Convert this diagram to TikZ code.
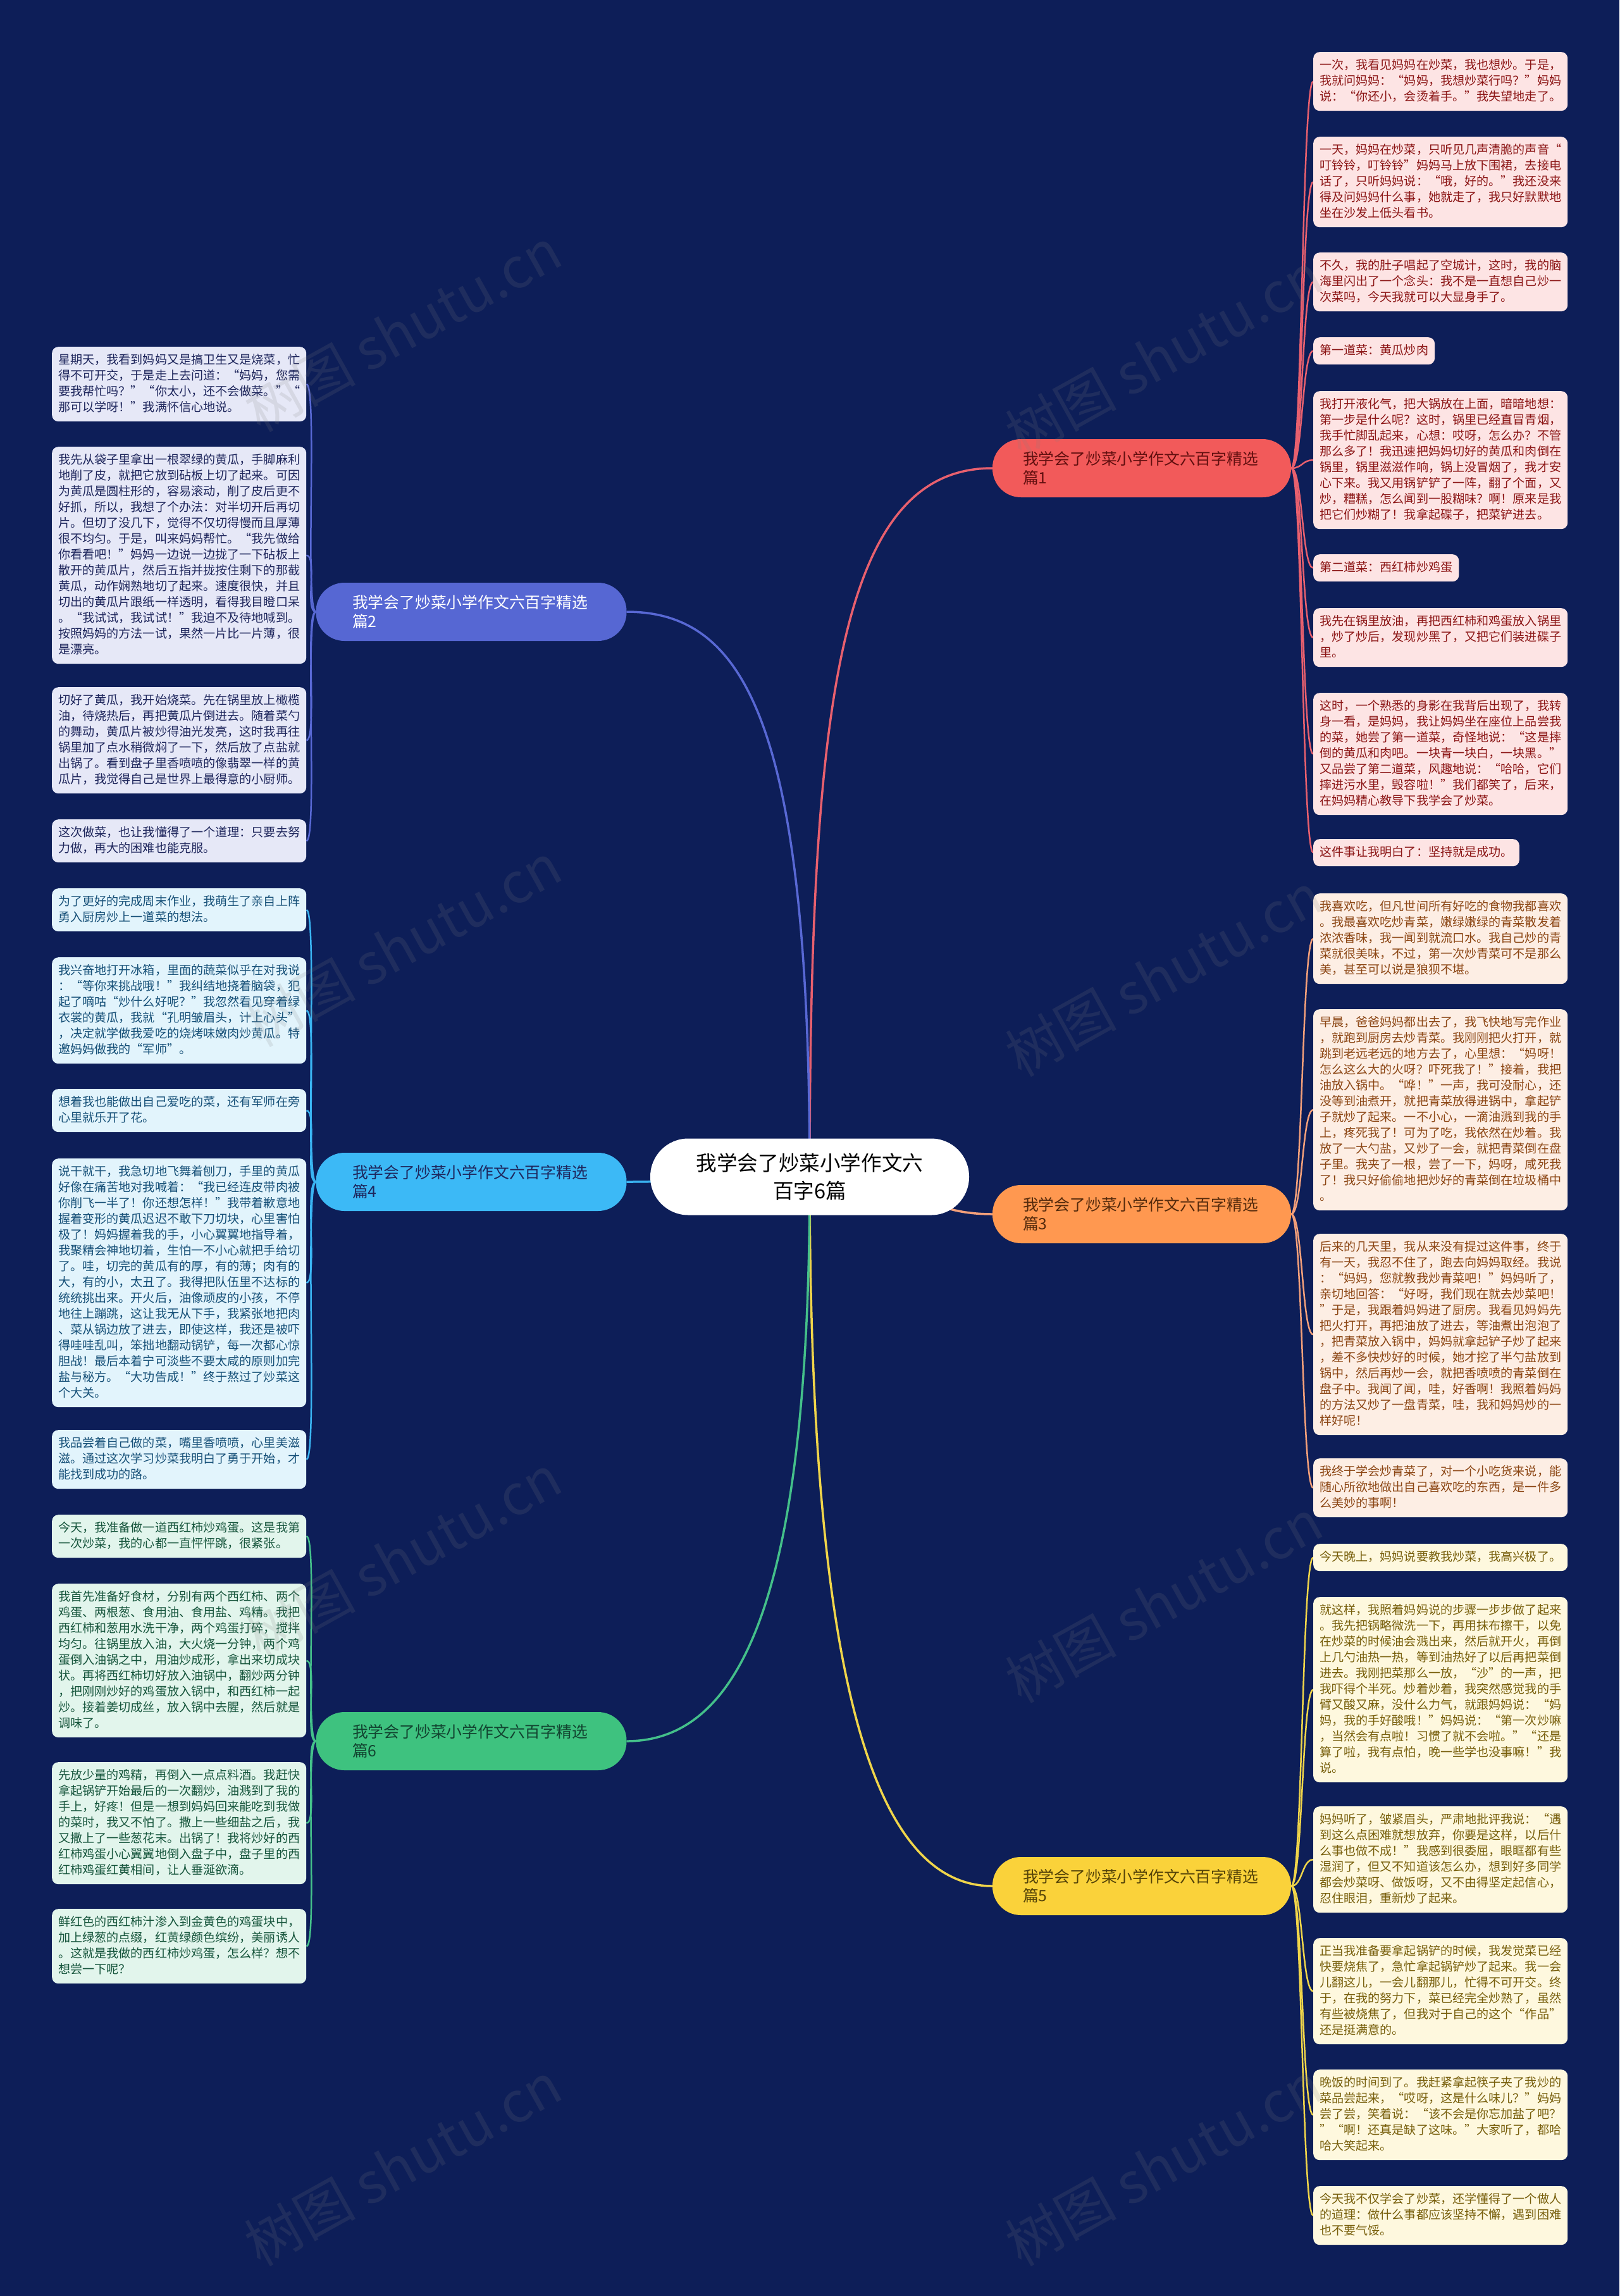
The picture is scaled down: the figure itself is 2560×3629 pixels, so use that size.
\documentclass[tikz,border=0pt]{standalone}
\usepackage{fontspec}
\newfontfamily\cjk{Noto Sans CJK SC}
\usetikzlibrary{backgrounds}
\definecolor{bg}{RGB}{13,30,88}
\definecolor{fA}{RGB}{253,228,228}\definecolor{tA}{RGB}{140,22,22}
\definecolor{fB}{RGB}{230,232,247}\definecolor{tB}{RGB}{30,38,92}
\definecolor{fC}{RGB}{253,238,228}\definecolor{tC}{RGB}{140,70,20}
\definecolor{fD}{RGB}{226,244,252}\definecolor{tD}{RGB}{22,80,120}
\definecolor{fE}{RGB}{254,248,222}\definecolor{tE}{RGB}{120,95,12}
\definecolor{fF}{RGB}{226,245,236}\definecolor{tF}{RGB}{22,85,60}
\definecolor{nA}{RGB}{242,90,90}\definecolor{lA}{RGB}{232,96,110}
\definecolor{nB}{RGB}{86,103,211}\definecolor{lB}{RGB}{88,104,212}
\definecolor{nC}{RGB}{255,152,80}\definecolor{lC}{RGB}{244,160,122}
\definecolor{nD}{RGB}{60,185,246}\definecolor{lD}{RGB}{58,180,242}
\definecolor{nE}{RGB}{250,210,58}\definecolor{lE}{RGB}{240,213,74}
\definecolor{nF}{RGB}{62,194,127}\definecolor{lF}{RGB}{68,192,138}
\newcommand\lfstrut{\rule[-7pt]{0pt}{25pt}}
\begin{document}
\begin{tikzpicture}[x=1pt,y=-1pt,
  leafbase/.style={rectangle, rounded corners=10pt, inner xsep=10pt, inner ysep=9pt,
    align=left, anchor=north west, font=\cjk\fontsize{19.1}{25}\selectfont,
    execute at begin node=\lfstrut, execute at end node=\lfstrut},
  leafw/.style={leafbase, text width=382pt},
  kA/.style={fill=fA, text=tA}, kB/.style={fill=fB, text=tB},
  kC/.style={fill=fC, text=tC}, kD/.style={fill=fD, text=tD},
  kE/.style={fill=fE, text=tE}, kF/.style={fill=fF, text=tF},
  branch/.style={rectangle, rounded corners=45pt, minimum height=92pt,
    text width=376pt, align=left, inner xsep=0pt,
    font=\cjk\fontsize{24.8}{30}\selectfont},
  rootnode/.style={rectangle, rounded corners=60pt, fill=white, minimum width=504pt,
    minimum height=121pt, text width=400pt, align=center, text={RGB:red,25;green,25;blue,25},
    font=\cjk\fontsize{32.6}{44}\selectfont},
  mainline/.style={line width=3.5pt},
  leafline/.style={line width=2.5pt},
  wmark/.style={rotate=29, text=gray, opacity=0.16, font=\cjk\fontsize{88}{90}\selectfont}
]
\begin{scope}[on background layer]
\fill[bg] (0,0) rectangle (2560,3629);
\end{scope}
\useasboundingbox (0,0) rectangle (2560,3629);

% root and branches
\node[rootnode] (root) at (1280,1860) {我学会了炒菜小学作文六\\百字6篇};
\node[branch, fill=nA, text=tA!70!black, minimum width=472pt] (b1) at (1805,740) {我学会了炒菜小学作文六百字精选\\篇1};
\node[branch, fill=nB, text=white, minimum width=491pt] (b2) at (745,967) {我学会了炒菜小学作文六百字精选\\篇2};
\node[branch, fill=nC, text=tC!60!black, minimum width=472pt] (b3) at (1805,1919) {我学会了炒菜小学作文六百字精选\\篇3};
\node[branch, fill=nD, text=tB, minimum width=491pt] (b4) at (745,1868) {我学会了炒菜小学作文六百字精选\\篇4};
\node[branch, fill=nE, text=tE!70!black, minimum width=472pt] (b5) at (1805,2981) {我学会了炒菜小学作文六百字精选\\篇5};
\node[branch, fill=nF, text=tF!80!black, minimum width=491pt] (b6) at (745,2752) {我学会了炒菜小学作文六百字精选\\篇6};

% right leaves, branch 1
\node[leafw,kA] (r1) at (2076,82) {一次，我看见妈妈在炒菜，我也想炒。于是，\\我就问妈妈：“妈妈，我想炒菜行吗？”妈妈\\说：“你还小，会烫着手。”我失望地走了。};
\node[leafw,kA] (r2) at (2076,216) {一天，妈妈在炒菜，只听见几声清脆的声音“\\叮铃铃，叮铃铃”妈妈马上放下围裙，去接电\\话了，只听妈妈说：“哦，好的。”我还没来\\得及问妈妈什么事，她就走了，我只好默默地\\坐在沙发上低头看书。};
\node[leafw,kA] (r3) at (2076,399) {不久，我的肚子唱起了空城计，这时，我的脑\\海里闪出了一个念头：我不是一直想自己炒一\\次菜吗，今天我就可以大显身手了。};
\node[leafbase,kA] (r4) at (2076,533) {第一道菜：黄瓜炒肉};
\node[leafw,kA] (r5) at (2076,618) {我打开液化气，把大锅放在上面，暗暗地想：\\第一步是什么呢？这时，锅里已经直冒青烟，\\我手忙脚乱起来，心想：哎呀，怎么办？不管\\那么多了！我迅速把妈妈切好的黄瓜和肉倒在\\锅里，锅里滋滋作响，锅上没冒烟了，我才安\\心下来。我又用锅铲铲了一阵，翻了个面，又\\炒，糟糕，怎么闻到一股糊味？啊！原来是我\\把它们炒糊了！我拿起碟子，把菜铲进去。};
\node[leafbase,kA] (r6) at (2076,876) {第二道菜：西红柿炒鸡蛋};
\node[leafw,kA] (r7) at (2076,961) {我先在锅里放油，再把西红柿和鸡蛋放入锅里\\，炒了炒后，发现炒黑了，又把它们装进碟子\\里。};
\node[leafw,kA] (r8) at (2076,1095) {这时，一个熟悉的身影在我背后出现了，我转\\身一看，是妈妈，我让妈妈坐在座位上品尝我\\的菜，她尝了第一道菜，奇怪地说：“这是摔\\倒的黄瓜和肉吧。一块青一块白，一块黑。”\\又品尝了第二道菜，风趣地说：“哈哈，它们\\摔进污水里，毁容啦！”我们都笑了，后来，\\在妈妈精心教导下我学会了炒菜。};
\node[leafbase,kA] (r9) at (2076,1326) {这件事让我明白了：坚持就是成功。};

% right leaves, branch 3
\node[leafw,kC] (r10) at (2076,1412) {我喜欢吃，但凡世间所有好吃的食物我都喜欢\\。我最喜欢吃炒青菜，嫩绿嫩绿的青菜散发着\\浓浓香味，我一闻到就流口水。我自己炒的青\\菜就很美味，不过，第一次炒青菜可不是那么\\美，甚至可以说是狼狈不堪。};
\node[leafw,kC] (r11) at (2076,1595) {早晨，爸爸妈妈都出去了，我飞快地写完作业\\，就跑到厨房去炒青菜。我刚刚把火打开，就\\跳到老远老远的地方去了，心里想：“妈呀！\\怎么这么大的火呀？吓死我了！”接着，我把\\油放入锅中。“哗！”一声，我可没耐心，还\\没等到油煮开，就把青菜放得进锅中，拿起铲\\子就炒了起来。一不小心，一滴油溅到我的手\\上，疼死我了！可为了吃，我依然在炒着。我\\放了一大勺盐，又炒了一会，就把青菜倒在盘\\子里。我夹了一根，尝了一下，妈呀，咸死我\\了！我只好偷偷地把炒好的青菜倒在垃圾桶中\\。};
\node[leafw,kC] (r12) at (2076,1950) {后来的几天里，我从来没有提过这件事，终于\\有一天，我忍不住了，跑去向妈妈取经。我说\\：“妈妈，您就教我炒青菜吧！”妈妈听了，\\亲切地回答：“好呀，我们现在就去炒菜吧！\\”于是，我跟着妈妈进了厨房。我看见妈妈先\\把火打开，再把油放了进去，等油煮出泡泡了\\，把青菜放入锅中，妈妈就拿起铲子炒了起来\\，差不多快炒好的时候，她才挖了半勺盐放到\\锅中，然后再炒一会，就把香喷喷的青菜倒在\\盘子中。我闻了闻，哇，好香啊！我照着妈妈\\的方法又炒了一盘青菜，哇，我和妈妈炒的一\\样好呢！};
\node[leafw,kC] (r13) at (2076,2305) {我终于学会炒青菜了，对一个小吃货来说，能\\随心所欲地做出自己喜欢吃的东西，是一件多\\么美妙的事啊！};

% right leaves, branch 5
\node[leafw,kE] (r14) at (2076,2440) {今天晚上，妈妈说要教我炒菜，我高兴极了。};
\node[leafw,kE] (r15) at (2076,2524) {就这样，我照着妈妈说的步骤一步步做了起来\\。我先把锅略微洗一下，再用抹布擦干，以免\\在炒菜的时候油会溅出来，然后就开火，再倒\\上几勺油热一热，等到油热好了以后再把菜倒\\进去。我刚把菜那么一放，“沙”的一声，把\\我吓得个半死。炒着炒着，我突然感觉我的手\\臂又酸又麻，没什么力气，就跟妈妈说：“妈\\妈，我的手好酸哦！”妈妈说：“第一次炒嘛\\，当然会有点啦！习惯了就不会啦。”“还是\\算了啦，我有点怕，晚一些学也没事嘛！”我\\说。};
\node[leafw,kE] (r16) at (2076,2855) {妈妈听了，皱紧眉头，严肃地批评我说：“遇\\到这么点困难就想放弃，你要是这样，以后什\\么事也做不成！”我感到很委屈，眼眶都有些\\湿润了，但又不知道该怎么办，想到好多同学\\都会炒菜呀、做饭呀，又不由得坚定起信心，\\忍住眼泪，重新炒了起来。};
\node[leafw,kE] (r17) at (2076,3063) {正当我准备要拿起锅铲的时候，我发觉菜已经\\快要烧焦了，急忙拿起锅铲炒了起来。我一会\\儿翻这儿，一会儿翻那儿，忙得不可开交。终\\于，在我的努力下，菜已经完全炒熟了，虽然\\有些被烧焦了，但我对于自己的这个“作品”\\还是挺满意的。};
\node[leafw,kE] (r18) at (2076,3271) {晚饭的时间到了。我赶紧拿起筷子夹了我炒的\\菜品尝起来，“哎呀，这是什么味儿？”妈妈\\尝了尝，笑着说：“该不会是你忘加盐了吧？\\”“啊！还真是缺了这味。”大家听了，都哈\\哈大笑起来。};
\node[leafw,kE] (r19) at (2076,3455) {今天我不仅学会了炒菜，还学懂得了一个做人\\的道理：做什么事都应该坚持不懈，遇到困难\\也不要气馁。};

% left leaves, branch 2
\node[leafw,kB] (l1) at (82,548) {星期天，我看到妈妈又是搞卫生又是烧菜，忙\\得不可开交，于是走上去问道：“妈妈，您需\\要我帮忙吗？”“你太小，还不会做菜。”“\\那可以学呀！”我满怀信心地说。};
\node[leafw,kB] (l2) at (82,706) {我先从袋子里拿出一根翠绿的黄瓜，手脚麻利\\地削了皮，就把它放到砧板上切了起来。可因\\为黄瓜是圆柱形的，容易滚动，削了皮后更不\\好抓，所以，我想了个办法：对半切开后再切\\片。但切了没几下，觉得不仅切得慢而且厚薄\\很不均匀。于是，叫来妈妈帮忙。“我先做给\\你看看吧！”妈妈一边说一边拢了一下砧板上\\散开的黄瓜片，然后五指并拢按住剩下的那截\\黄瓜，动作娴熟地切了起来。速度很快，并且\\切出的黄瓜片跟纸一样透明，看得我目瞪口呆\\。“我试试，我试试！”我迫不及待地喊到。\\按照妈妈的方法一试，果然一片比一片薄，很\\是漂亮。};
\node[leafw,kB] (l3) at (82,1086) {切好了黄瓜，我开始烧菜。先在锅里放上橄榄\\油，待烧热后，再把黄瓜片倒进去。随着菜勺\\的舞动，黄瓜片被炒得油光发亮，这时我再往\\锅里加了点水稍微焖了一下，然后放了点盐就\\出锅了。看到盘子里香喷喷的像翡翠一样的黄\\瓜片，我觉得自己是世界上最得意的小厨师。};
\node[leafw,kB] (l4) at (82,1295) {这次做菜，也让我懂得了一个道理：只要去努\\力做，再大的困难也能克服。};

% left leaves, branch 4
\node[leafw,kD] (l5) at (82,1404) {为了更好的完成周末作业，我萌生了亲自上阵\\勇入厨房炒上一道菜的想法。};
\node[leafw,kD] (l6) at (82,1513) {我兴奋地打开冰箱，里面的蔬菜似乎在对我说\\：“等你来挑战哦！”我纠结地挠着脑袋，犯\\起了嘀咕“炒什么好呢？”我忽然看见穿着绿\\衣裳的黄瓜，我就“孔明皱眉头，计上心头”\\，决定就学做我爱吃的烧烤味嫩肉炒黄瓜。特\\邀妈妈做我的“军师”。};
\node[leafw,kD] (l7) at (82,1721) {想着我也能做出自己爱吃的菜，还有军师在旁\\心里就乐开了花。};
\node[leafw,kD] (l8) at (82,1831) {说干就干，我急切地飞舞着刨刀，手里的黄瓜\\好像在痛苦地对我喊着：“我已经连皮带肉被\\你削飞一半了！你还想怎样！”我带着歉意地\\握着变形的黄瓜迟迟不敢下刀切块，心里害怕\\极了！妈妈握着我的手，小心翼翼地指导着，\\我聚精会神地切着，生怕一不小心就把手给切\\了。哇，切完的黄瓜有的厚，有的薄；肉有的\\大，有的小，太丑了。我得把队伍里不达标的\\统统挑出来。开火后，油像顽皮的小孩，不停\\地往上蹦跳，这让我无从下手，我紧张地把肉\\、菜从锅边放了进去，即使这样，我还是被吓\\得哇哇乱叫，笨拙地翻动锅铲，每一次都心惊\\胆战！最后本着宁可淡些不要太咸的原则加完\\盐与秘方。“大功告成！”终于熬过了炒菜这\\个大关。};
\node[leafw,kD] (l9) at (82,2260) {我品尝着自己做的菜，嘴里香喷喷，心里美滋\\滋。通过这次学习炒菜我明白了勇于开始，才\\能找到成功的路。};

% left leaves, branch 6
\node[leafw,kF] (l10) at (82,2394) {今天，我准备做一道西红柿炒鸡蛋。这是我第\\一次炒菜，我的心都一直怦怦跳，很紧张。};
\node[leafw,kF] (l11) at (82,2503) {我首先准备好食材，分别有两个西红柿、两个\\鸡蛋、两根葱、食用油、食用盐、鸡精。我把\\西红柿和葱用水洗干净，两个鸡蛋打碎，搅拌\\均匀。往锅里放入油，大火烧一分钟，两个鸡\\蛋倒入油锅之中，用油炒成形，拿出来切成块\\状。再将西红柿切好放入油锅中，翻炒两分钟\\，把刚刚炒好的鸡蛋放入锅中，和西红柿一起\\炒。接着姜切成丝，放入锅中去腥，然后就是\\调味了。};
\node[leafw,kF] (l12) at (82,2785) {先放少量的鸡精，再倒入一点点料酒。我赶快\\拿起锅铲开始最后的一次翻炒，油溅到了我的\\手上，好疼！但是一想到妈妈回来能吃到我做\\的菜时，我又不怕了。撒上一些细盐之后，我\\又撒上了一些葱花末。出锅了！我将炒好的西\\红柿鸡蛋小心翼翼地倒入盘子中，盘子里的西\\红柿鸡蛋红黄相间，让人垂涎欲滴。};
\node[leafw,kF] (l13) at (82,3017) {鲜红色的西红柿汁渗入到金黄色的鸡蛋块中，\\加上绿葱的点缀，红黄绿颜色缤纷，美丽诱人\\。这就是我做的西红柿炒鸡蛋，怎么样？想不\\想尝一下呢？};

% connectors
\begin{scope}[on background layer]
\draw[mainline, lA] (root.center) .. controls (1280,1100) and (1330,740) .. (b1.west);
\draw[mainline, lB] (root.center) .. controls (1280,1150) and (1180,967) .. (b2.east);
\draw[mainline, lC] (root.center) .. controls (1450,1860) and (1450,1919) .. (b3.west);
\draw[mainline, lD] (root.center) .. controls (1150,1860) and (1100,1868) .. (b4.east);
\draw[mainline, lE] (root.center) .. controls (1280,2650) and (1380,2981) .. (b5.west);
\draw[mainline, lF] (root.center) .. controls (1280,2500) and (1180,2752) .. (b6.east);
\foreach \n in {1,...,9}
  \draw[leafline, lA] (b1.east) .. controls +(18,0) and +(-18,0) .. (r\n.west);
\foreach \n in {10,...,13}
  \draw[leafline, lC] (b3.east) .. controls +(18,0) and +(-18,0) .. (r\n.west);
\foreach \n in {14,...,19}
  \draw[leafline, lE] (b5.east) .. controls +(18,0) and +(-18,0) .. (r\n.west);
\foreach \n in {1,...,4}
  \draw[leafline, lB] (b2.west) .. controls +(-18,0) and +(18,0) .. (l\n.east);
\foreach \n in {5,...,9}
  \draw[leafline, lD] (b4.west) .. controls +(-18,0) and +(18,0) .. (l\n.east);
\foreach \n in {10,...,13}
  \draw[leafline, lF] (b6.west) .. controls +(-18,0) and +(18,0) .. (l\n.east);
\end{scope}

% watermarks
\foreach \wx/\wy [count=\i] in {637/521, 1840/560, 637/1493, 1840/1540, 637/2460, 1840/2530, 637/3420, 1840/3420}
  \node[wmark] (wm\i) at (\wx,\wy) {树图 shutu.cn};
\end{tikzpicture}
\end{document}
